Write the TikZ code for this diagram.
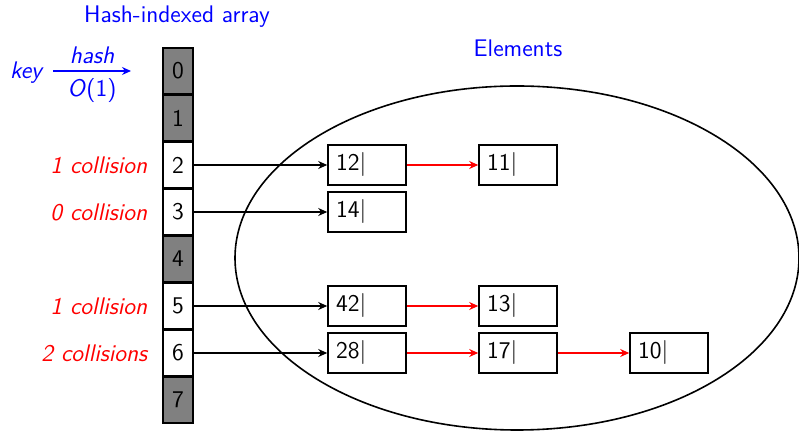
\documentclass[tikz,border=0pt]{standalone}
\usepackage{xcolor}
\usepackage{tikz}
\usetikzlibrary{matrix, calc, arrows.meta}
\renewcommand{\familydefault}{\sfdefault}

\begin{document}
\begin{tikzpicture}[x=0.5pt, y=-0.5pt, font=\sffamily\large, >={Stealth[length=4.5pt, width=4pt, inset=1.5pt]}]

	\tikzset{
		elem/.style={rectangle, draw=black, thick, fill=white, minimum height=20pt,
			text width=31pt, inner xsep=4pt, inner ysep=2pt, align=left},
		coll/.style={red, font=\sffamily\large\itshape, anchor=east, xshift=-4pt},
		link/.style={->, thick},
		chain/.style={->, thick, red}
	}

	\useasboundingbox (0,0) rectangle (799,432);

	% the set of elements
	\begin{scope}
		\clip (0,0) rectangle (799,432);
		\draw[thick] (517,258) ellipse [x radius=141pt, y radius=86pt];
	\end{scope}

	\matrix (table) [matrix of nodes, row sep=-\pgflinewidth,
	nodes={rectangle, draw=black, thick, minimum width=15pt, minimum height=23.1pt, inner sep=0pt}] at (178,235.5)
	{
		|[fill=gray]|  0 \\
		|[fill=gray]|  1 \\
		|[fill=white]| 2 \\
		|[fill=white]| 3 \\
		|[fill=gray]|  4 \\
		|[fill=white]| 5 \\
		|[fill=white]| 6 \\
		|[fill=gray]|  7 \\
	};

	\node[blue] (title) at (177,17) {Hash-indexed array};
	\node[blue] (elems) at (518,48) {Elements};

	% key -> slot
	\node[blue, font=\sffamily\large\itshape] (key) at (26,73) {key};
	\coordinate (hs) at (53,71);
	\coordinate (he) at (131,71);
	\draw[blue, thick, ->] (hs) -- node[above] {\itshape hash} node[below] {\textit{O}(1)} (he);

	% collision counts
	\node[coll] (c2) at (table-3-1.west) {1 collision};
	\node[coll] (c3) at (table-4-1.west) {0 collision};
	\node[coll] (c5) at (table-6-1.west) {1 collision};
	\node[coll] (c6) at (table-7-1.west) {2 collisions};

	% chained elements
	\node[elem] (e12) at (367,165) {12\textbar};
	\node[elem] (e11) at (518,165) {11\textbar};
	\node[elem] (e14) at (367,212) {14\textbar};
	\node[elem] (e42) at (367,306) {42\textbar};
	\node[elem] (e13) at (518,306) {13\textbar};
	\node[elem] (e28) at (367,353) {28\textbar};
	\node[elem] (e17) at (518,353) {17\textbar};
	\node[elem] (e10) at (669,353) {10\textbar};

	\draw[link] (table-3-1.east) -- (table-3-1.east -| e12.west);
	\draw[link] (table-4-1.east) -- (table-4-1.east -| e14.west);
	\draw[link] (table-6-1.east) -- (table-6-1.east -| e42.west);
	\draw[link] (table-7-1.east) -- (table-7-1.east -| e28.west);

	\draw[chain] (e12) -- (e11);
	\draw[chain] (e42) -- (e13);
	\draw[chain] (e28) -- (e17);
	\draw[chain] (e17) -- (e10);

\end{tikzpicture}
\end{document}
